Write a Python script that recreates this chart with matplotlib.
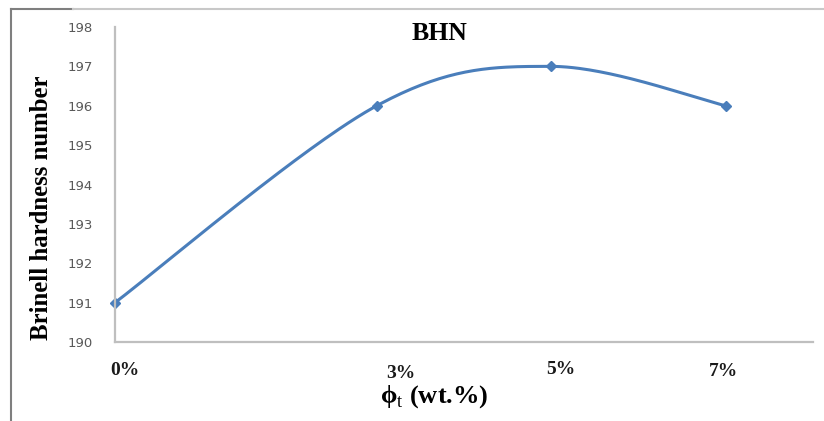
import numpy as np
import matplotlib
matplotlib.use("Agg")
import matplotlib.pyplot as plt
from matplotlib.lines import Line2D
import matplotlib.transforms as mtransforms

# ---- data ----
x_vals = [0, 3, 5, 7]
bhn = [191, 196, 197, 196]
x_labels = ["0%", "3%", "5%", "7%"]
y_ticks = [190, 191, 192, 193, 194, 195, 196, 197, 198]

title = "BHN"
y_title = "Brinell hardness number"

# ---- style ----
line_color = "#4A7EBB"
spine_color = "#BFBFBF"
serif = ["Liberation Serif", "DejaVu Serif"]
label_nudge_px = [(10, 1), (24, -2), (10, 2), (-2, 0)]

plt.rcParams["mathtext.fontset"] = "custom"
plt.rcParams["mathtext.rm"] = "Liberation Serif"
plt.rcParams["mathtext.bf"] = "Liberation Serif:bold"

W, H = 824, 421
fig = plt.figure(figsize=(W / 100, H / 100), dpi=100)
L, R, T, B = 115, 813, 27, 342
ax = fig.add_axes([L / W, 1 - B / H, (R - L) / W, (B - T) / H])


def smooth(xs, ys, n=60):
    """Excel-like smoothed line: Catmull-Rom as cubic Bezier segments."""
    P = np.column_stack([xs, ys]).astype(float)
    P = np.vstack([P[0], P, P[-1]])
    out = []
    for i in range(1, len(P) - 2):
        p0, p1, p2, p3 = P[i - 1], P[i], P[i + 1], P[i + 2]
        c1 = p1 + (p2 - p0) / 6.0
        c2 = p2 - (p3 - p1) / 6.0
        t = np.linspace(0, 1, n)[:, None]
        seg = ((1 - t) ** 3) * p1 + 3 * ((1 - t) ** 2) * t * c1 + 3 * (1 - t) * t ** 2 * c2 + t ** 3 * p2
        out.append(seg if i == 1 else seg[1:])
    out = np.vstack(out)
    return out[:, 0], out[:, 1]


# smooth in screen-proportional space
xr, yr = 8.0, 8.0
sx = (R - L) / xr
sy = (B - T) / yr
cx, cy = smooth(np.array(x_vals) * sx, (np.array(bhn) - 190) * sy)
ax.plot(cx / sx, cy / sy + 190, color=line_color, lw=2.2, solid_capstyle="round", clip_on=False)
ax.plot(x_vals, bhn, linestyle="none", marker="D", markersize=5,
        color=line_color, clip_on=False)

ax.set_xlim(0, 8)
ax.set_ylim(190, 198)
ax.set_yticks(y_ticks)
ax.set_yticklabels([str(v) for v in y_ticks], color="#595959", fontsize=9.5,
                   family=["DejaVu Sans"])
ax.tick_params(axis="y", length=0, pad=16)
ax.set_xticks(x_vals)
ax.set_xticklabels(x_labels, fontsize=14, fontweight="bold", family=serif, color="#1a1a1a")
ax.tick_params(axis="x", length=0, pad=15)
for lab, (dx, dy) in zip(ax.get_xticklabels(), label_nudge_px):
    lab.set_transform(lab.get_transform() + mtransforms.Affine2D().translate(dx, dy))

for s in ["top", "right"]:
    ax.spines[s].set_visible(False)
for s in ["left", "bottom"]:
    ax.spines[s].set_color(spine_color)
    ax.spines[s].set_linewidth(1.6)

# titles
fig.text(439 / W, 1 - 34 / H, title, ha="center", va="center", fontsize=18.5,
         fontweight="bold", family=serif)
fig.text(42 / W, 1 - 208 / H, y_title, ha="center", va="center", rotation=90,
         fontsize=17.8, fontweight="bold", family=serif)
fig.text(434 / W, 1 - 397 / H, "ϕ$_{\\mathrm{t}}$ (wt.%)", ha="center", va="center",
         fontsize=19, fontweight="bold", family=serif)

# outer frame lines
fig.add_artist(Line2D([10.5 / W, 10.5 / W], [0, 1 - 9 / H], transform=fig.transFigure,
                      color="#7f7f7f", lw=1.5))
fig.add_artist(Line2D([10.5 / W, 73 / W], [1 - 9 / H, 1 - 9 / H], transform=fig.transFigure,
                      color="#7f7f7f", lw=1.5))
fig.add_artist(Line2D([73 / W, 1], [1 - 9 / H, 1 - 9 / H], transform=fig.transFigure,
                      color="#C8C8C8", lw=1.5))

fig.savefig("out.png", dpi=100)
